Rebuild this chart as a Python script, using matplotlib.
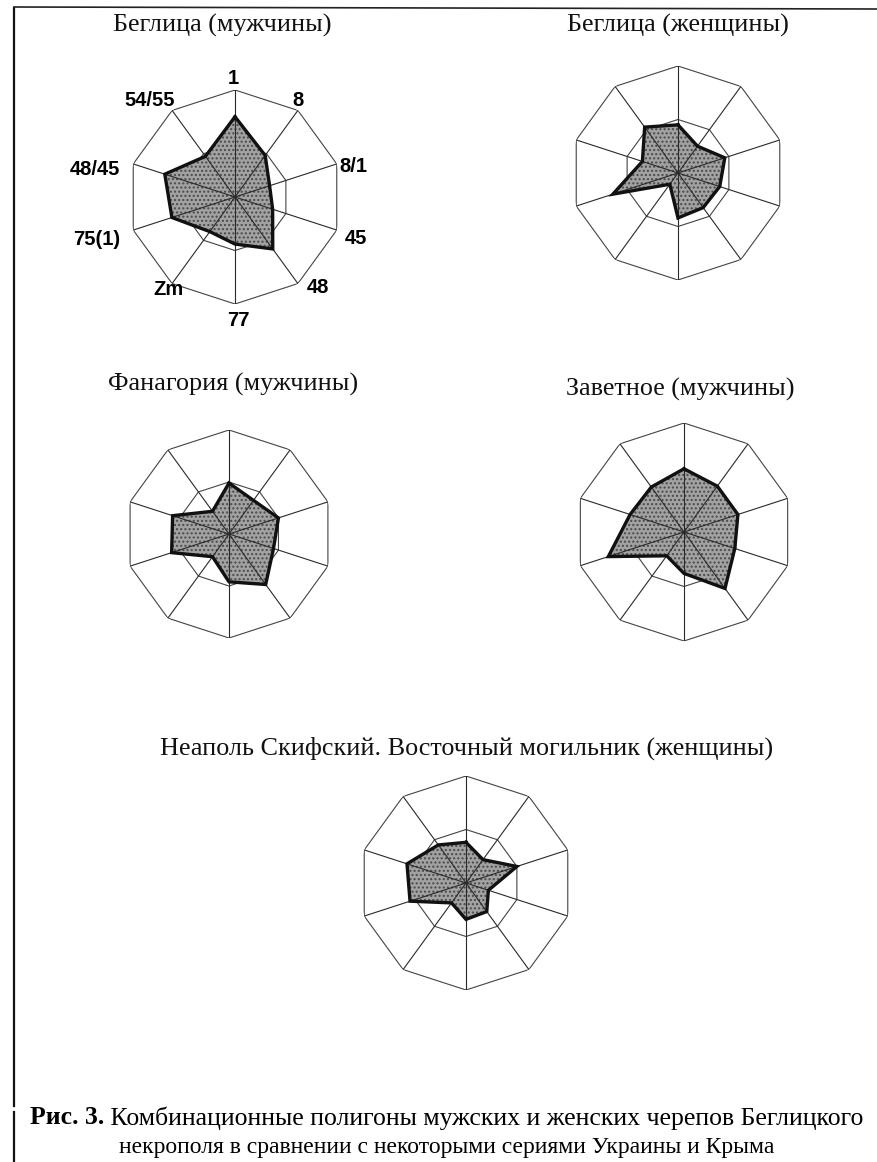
import numpy as np
import matplotlib
matplotlib.use("Agg")
import matplotlib.pyplot as plt

plt.rcParams["hatch.color"] = "#4a4a4a"
plt.rcParams["hatch.linewidth"] = 1.0

# ==========================
# Data
# ==========================
axis_labels = ["1", "8", "8/1", "45", "48", "77", "Zm", "75(1)", "48/45", "54/55"]

titles = [
    "Беглица (мужчины)",
    "Беглица (женщины)",
    "Фанагория (мужчины)",
    "Заветное (мужчины)",
    "Неаполь Скифский. Восточный могильник (женщины)",
]

beglica_m = [0.75, 0.48, 0.34, 0.37, 0.60, 0.44, 0.40, 0.62, 0.69, 0.47]
beglica_f = [0.45, 0.31, 0.46, 0.41, 0.40, 0.42, 0.13, 0.64, 0.35, 0.53]
fanagoria_m = [0.49, 0.40, 0.50, 0.45, 0.60, 0.46, 0.27, 0.58, 0.57, 0.27]
zavetnoe_m = [0.58, 0.52, 0.52, 0.49, 0.64, 0.38, 0.27, 0.73, 0.52, 0.51]
neapol_f = [0.38, 0.27, 0.50, 0.22, 0.33, 0.34, 0.23, 0.55, 0.58, 0.44]

series = [beglica_m, beglica_f, fanagoria_m, zavetnoe_m, neapol_f]

# ==========================
# Layout (pixels)
# ==========================
W, H = 877, 1162
centers = [(235, 197, 107), (678, 173, 107), (229, 534, 104), (684, 532, 109), (466, 883, 107)]
title_pos = [(222, 25), (678, 25), (233, 384), (680, 389), (467, 748)]

# label placement around the first chart (angle from north, radius)
label_ang = [-1, 33, 75.7, 108.9, 137.6, 178.6, 215.8, 252.7, 281, 318.5]
label_rad = [1.11, 1.08, 1.14, 1.19, 1.15, 1.15, 1.07, 1.35, 1.33, 1.20]

fig = plt.figure(figsize=(W / 100, H / 100), dpi=100)
fig.patch.set_facecolor("white")

theta = np.linspace(0, 2 * np.pi, len(axis_labels), endpoint=False)
theta_c = np.append(theta, theta[0])

for i, (cx, cy, R) in enumerate(centers):
    rect = [(cx - R) / W, 1 - (cy + R) / H, 2 * R / W, 2 * R / H]
    ax = fig.add_axes(rect, projection="polar")
    ax.set_theta_zero_location("N")
    ax.set_theta_direction(-1)
    ax.set_ylim(0, 1)
    ax.grid(False)
    ax.set_xticks([])
    ax.set_yticks([])
    ax.spines["polar"].set_visible(False)
    ax.patch.set_alpha(0)

    # decagon grid
    for rr in [0.5, 1.0]:
        ax.plot(theta_c, [rr] * len(theta_c), color="#444444", linewidth=0.8)

    vals = series[i]
    vals_c = np.append(vals, vals[0])
    ax.fill(theta_c, vals_c, facecolor="#a2a2a2", edgecolor="#4a4a4a",
            linewidth=0, hatch="....", zorder=2)

    # spokes
    for t in theta:
        ax.plot([t, t], [0, 1], color="#2a2a2a", linewidth=0.8, zorder=3)

    ax.plot(theta_c, vals_c, color="#111111", linewidth=2.4, zorder=4,
            solid_joinstyle="miter")

    if i == 0:
        for lab, a, lr in zip(axis_labels, label_ang, label_rad):
            ax.text(np.deg2rad(a), lr, lab, ha="center", va="center",
                    fontsize=14.5, fontweight="bold", family="Liberation Sans",
                    clip_on=False)

    tx, ty = title_pos[i]
    fig.text(tx / W, 1 - ty / H, titles[i], ha="center", va="center",
             fontsize=18.8, family="Liberation Serif", color="#111111")

# frame lines of the scanned page
fig.add_artist(plt.Line2D([14 / W, 14 / W], [1 - 8 / H, 1 - 1106 / H],
                          color="#111111", linewidth=1.6))
fig.add_artist(plt.Line2D([14 / W, 14 / W], [1 - 1112 / H, 0],
                          color="#111111", linewidth=1.6))
fig.add_artist(plt.Line2D([14 / W, 1.0], [1 - 7 / H, 1 - 9 / H],
                          color="#222222", linewidth=1.2))

# caption
cap_bold = fig.text(30 / W, 1 - 1118 / H, "Рис. 3.", ha="left", va="center",
                    fontsize=18.5, fontweight="bold", family="Liberation Serif")
fig.axes[0].annotate(" Комбинационные полигоны мужских и женских черепов Беглицкого",
                     xy=(1, 0), xycoords=cap_bold, ha="left", va="bottom",
                     fontsize=18.5, family="Liberation Serif", annotation_clip=False)
fig.text(447 / W, 1 - 1148 / H,
         "некрополя в сравнении с некоторыми сериями Украины и Крыма",
         ha="center", va="center", fontsize=17, family="Liberation Serif")

plt.savefig("out.png", dpi=100)
